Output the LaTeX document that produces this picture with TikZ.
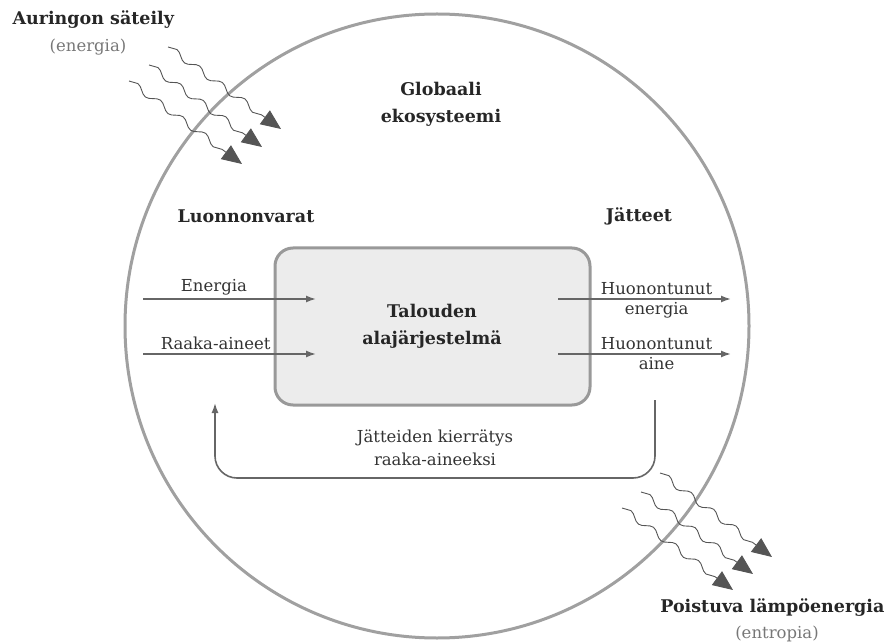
\documentclass[tikz,border=0pt]{standalone}
\usepackage{fontspec}
\setmainfont{DejaVu Serif}
\usetikzlibrary{arrows.meta,decorations.pathmorphing}
\definecolor{ringgray}{HTML}{A0A0A0}
\definecolor{boxgray}{HTML}{999999}
\definecolor{boxfill}{HTML}{ECECEC}
\definecolor{flowgray}{HTML}{666666}
\definecolor{wavegray}{HTML}{555555}
\definecolor{txtgray}{HTML}{777777}
\begin{document}
\begin{tikzpicture}
[x=1pt,y=-1pt,
  ringdecorate/.style={draw=ringgray,line width=3pt},
  boxdecorate/.style={draw=boxgray,fill=boxfill,line width=3pt,rounded corners=18pt},
  flowdecorate/.style={draw=flowgray,line width=1.6pt,-{Latex[length=10pt,width=7pt]}},
  wavedecorate/.style={draw=wavegray,line width=0.9pt,decorate,
    decoration={snake,amplitude=3.2pt,segment length=28pt,post length=16pt},
    -{Triangle[length=20pt,width=17pt,fill=wavegray]}},
  titledecorate/.style={font=\bfseries\fontsize{17.5}{27}\selectfont,text=black!85,align=center},
  labeldecorate/.style={font=\fontsize{16.5}{23.5}\selectfont,text=black!80,align=center,inner sep=1pt},
  notedecorate/.style={font=\fontsize{16.5}{20}\selectfont,text=txtgray}]
\useasboundingbox (0,0) rectangle (889,644);
% ecosystem and economy
\draw[ringdecorate] (437,326) circle (312);
\draw[boxdecorate] (275,248) rectangle (590,405);
% nodes or texts
\node (eko) at (441,104) [titledecorate] {Globaali\\ekosysteemi};
\node (talous) at (432,326) [titledecorate] {Talouden\\alajärjestelmä};
\node (luonto) at (246,216) [titledecorate] {Luonnonvarat};
\node (jate) at (639,216) [titledecorate] {Jätteet};
\node (aurinko) at (9,20) [titledecorate,anchor=west] {Auringon säteily};
\node (auringonselite) at (88,47) [notedecorate] {(energia)};
\node (poisto) at (888,608) [titledecorate,anchor=east] {Poistuva lämpöenergia};
\node (poistoselite) at (777,634) [notedecorate] {(entropia)};
% coordinates for the flows
\coordinate (e0) at (143,299);
\coordinate (e1) at (316,299);
\coordinate (r0) at (143,354);
\coordinate (r1) at (316,354);
\coordinate (h0) at (558,299);
\coordinate (h1) at (731,299);
\coordinate (a0) at (558,354);
\coordinate (a1) at (731,354);
\coordinate (kstart) at (655,400);
\coordinate (kbottom) at (435,478);
\coordinate (kend) at (215,403);
% flows
\draw[flowdecorate] (e0) -- node[labeldecorate,above=2pt,pos=0.41]{Energia} (e1);
\draw[flowdecorate] (r0) -- node[labeldecorate,above=2pt,pos=0.42]{Raaka-aineet} (r1);
\draw[flowdecorate] (h0) -- node[labeldecorate,above=2pt,pos=0.57]{Huonontunut}
  node[labeldecorate,below=2pt,pos=0.57]{energia} (h1);
\draw[flowdecorate] (a0) -- node[labeldecorate,above=2pt,pos=0.57]{Huonontunut}
  node[labeldecorate,below=2pt,pos=0.57]{aine} (a1);
\draw[flowdecorate,rounded corners=22pt] (kstart) |- (kbottom) -| (kend);
\node (kierto) at (435,448) [labeldecorate] {Jätteiden kierrätys\\raaka-aineeksi};
% radiation in and out
\coordinate (s1) at (168,47);
\coordinate (t1) at (281,129);
\coordinate (s2) at (149,65);
\coordinate (t2) at (262,147);
\coordinate (s3) at (129,81);
\coordinate (t3) at (242,164);
\coordinate (u1) at (660,473);
\coordinate (v1) at (772,557);
\coordinate (u2) at (641,492);
\coordinate (v2) at (753,574);
\coordinate (u3) at (622,508);
\coordinate (v3) at (733,590);
\foreach \a/\b in {s1/t1,s2/t2,s3/t3,u1/v1,u2/v2,u3/v3}
  \draw[wavedecorate] (\a) -- (\b);
\end{tikzpicture}
\end{document}
